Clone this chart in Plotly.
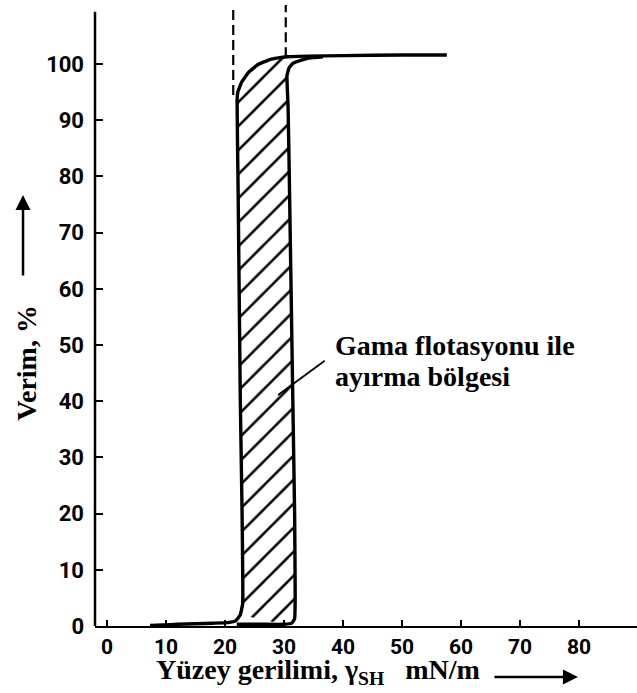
import plotly.graph_objects as go

# Separation curves: yield (%) versus surface tension (mN/m)
left_x = [7.3, 9.5, 12, 15, 18, 20.5, 21.8, 22.6, 23.0, 22.9, 22.6, 22.4, 22.2, 22.05,
          22.17, 22.83, 24.0, 25.6, 27.6, 29.0, 30.5, 34, 40, 50, 57.6]
left_y = [0.1, 0.2, 0.3, 0.4, 0.5, 0.6, 0.9, 2.0, 4, 20, 40, 60, 80, 93.5,
          95.0, 96.8, 98.5, 99.9, 100.8, 101.1, 101.3, 101.4, 101.5, 101.6, 101.6]

right_x = [22.0, 26, 30, 31.3, 31.8, 31.9, 31.8, 31.5, 31.2, 30.9, 30.7, 30.55, 30.5,
           30.85, 31.5, 32.7, 34.4, 36.6]
right_y = [0.3, 0.3, 0.3, 0.5, 1.3, 5, 20, 40, 60, 80, 92, 96.0, 97.9,
           99.3, 100.1, 100.6, 101.1, 101.3]

# Dashed limits of the separation band
limit_x = [21.4, 30.3]
limit_y_low = [94.5, 101.2]
limit_y_top = 110.5

# Leader line from the band to its label
leader_x = [29.0, 36.9]
leader_y = [41.1, 47.2]

x_ticks = [0, 10, 20, 30, 40, 50, 60, 70, 80]
y_ticks = [0, 10, 20, 30, 40, 50, 60, 70, 80, 90, 100]

band_label = ["Gama flotasyonu ile", "ayırma bölgesi"]
x_title = "Yüzey gerilimi, γ<sub>SH</sub>\u00a0\u00a0 mN/m"
y_title = "Verim, %"

serif = "Liberation Serif, Times New Roman, serif"
narrow = "Roboto, Liberation Sans Narrow, Arial Narrow, sans-serif"

fig = go.Figure()

# hatched band between the two curves
band_x = left_x[7:21] + right_x[12:1:-1]
band_y = left_y[7:21] + right_y[12:1:-1]
fig.add_trace(go.Scatter(
    x=band_x, y=band_y, mode="lines", fill="toself",
    line=dict(width=0, color="rgba(0,0,0,0)"),
    fillcolor="white",
    fillpattern=dict(shape="/", size=17, solidity=0.15, fgcolor="black",
                     fgopacity=1, bgcolor="white"),
    hoverinfo="skip", showlegend=False))

for xs, ys in ((left_x, left_y), (right_x, right_y)):
    fig.add_trace(go.Scatter(
        x=xs, y=ys, mode="lines",
        line=dict(color="black", width=3.4, shape="spline", smoothing=0.3),
        showlegend=False, hoverinfo="skip"))

for xv, yl in zip(limit_x, limit_y_low):
    fig.add_trace(go.Scatter(
        x=[xv, xv], y=[yl, limit_y_top], mode="lines",
        line=dict(color="black", width=2.2, dash="10px,5px"),
        showlegend=False, hoverinfo="skip"))

fig.add_trace(go.Scatter(
    x=leader_x, y=leader_y, mode="lines",
    line=dict(color="black", width=1.8),
    showlegend=False, hoverinfo="skip"))

# vertical axis line (stops short of the top)
fig.add_shape(type="line", xref="paper", yref="y", x0=0, x1=0, y0=0, y1=109.3,
              line=dict(color="black", width=2.5))

fig.add_annotation(x=38.3, y=50.0, xref="x", yref="y", text=band_label[0],
                   showarrow=False, xanchor="left", yanchor="middle",
                   font=dict(family=serif, size=28, color="black", weight="bold"))
fig.add_annotation(x=38.3, y=44.4, xref="x", yref="y", text=band_label[1],
                   showarrow=False, xanchor="left", yanchor="middle",
                   font=dict(family=serif, size=28, color="black", weight="bold"))

# axis titles
fig.add_annotation(x=0.411, y=-0.073, xref="paper", yref="paper", text=x_title,
                   showarrow=False, xanchor="center", yanchor="middle",
                   font=dict(family=serif, size=28, color="black", weight="bold"))
fig.add_annotation(x=-0.1255, y=0.424, xref="paper", yref="paper", text=y_title,
                   showarrow=False, textangle=-90, xanchor="center", yanchor="middle",
                   font=dict(family=serif, size=28, color="black", weight="bold"))

# direction arrows next to the titles
fig.add_annotation(x=0.891, y=-0.0821, xref="paper", yref="paper", text="",
                   showarrow=True, ax=-85, ay=0, arrowhead=2, arrowsize=1.2,
                   arrowwidth=2.5, arrowcolor="black")
fig.add_annotation(x=-0.1328, y=0.694, xref="paper", yref="paper", text="",
                   showarrow=True, ax=0, ay=82, arrowhead=2, arrowsize=1.2,
                   arrowwidth=2.5, arrowcolor="black")

fig.update_xaxes(range=[-2.03, 89.83], tickvals=x_ticks, ticktext=[str(v) for v in x_ticks],
                 showline=True, linecolor="black", linewidth=2.2,
                 ticks="inside", ticklen=6, tickwidth=1.5, tickcolor="black",
                 ticklabelstandoff=1,
                 showgrid=False, zeroline=False,
                 tickfont=dict(family=narrow, size=21, color="black", weight="bold"))
fig.update_yaxes(range=[0, 110.5], tickvals=y_ticks, ticktext=[str(v) for v in y_ticks],
                 showline=False,
                 ticks="inside", ticklen=8, tickwidth=2, tickcolor="black",
                 ticklabelstandoff=10,
                 showgrid=False, zeroline=False,
                 tickfont=dict(family=narrow, size=22, color="black", weight="bold"))

fig.update_layout(width=637, height=693, margin=dict(l=95, r=0, t=5, b=67),
                  plot_bgcolor="white", paper_bgcolor="white", showlegend=False)

fig.write_html("out.html")
